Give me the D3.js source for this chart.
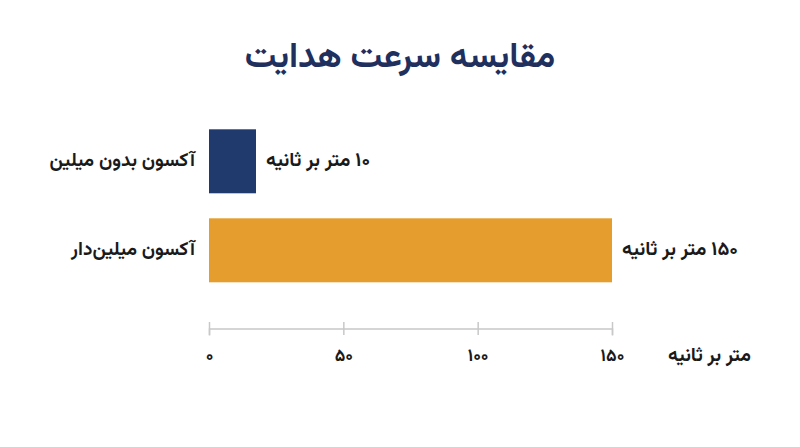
<!DOCTYPE html>
<html>
<head>
<meta charset="utf-8">
<title>مقایسه سرعت هدایت</title>
<script src="https://d3js.org/d3.v7.min.js"></script>
<style>
    body { margin: 0; background: #fff; }
    text { font-family: Vazirmatn, "Noto Sans Arabic", "DejaVu Sans", sans-serif; font-weight: bold; }
    .axis path, .axis line { stroke: #c8c8c8; stroke-width: 1.5; }
</style>
</head>
<body>
<script>
    // data
    var categories = ["آکسون بدون میلین", "آکسون میلین‌دار"];
    var speeds = [10, 150];
    var valueLabels = ["۱۰ متر بر ثانیه", "۱۵۰ متر بر ثانیه"];
    var tickValues = [0, 50, 100, 150];
    var tickLabels = ["۰", "۵۰", "۱۰۰", "۱۵۰"];
    var colors = ["#213a6e", "#e59e2d"];

    var svgWidth = 800, svgHeight = 447;
    var minBar = 47;   // short bar is drawn wider so it stays visible

    var x = d3.scaleLinear().domain([0, 150]).range([209, 612]);
    var y = d3.scaleBand().domain(categories).range([120.4, 291.2]).paddingInner(0.281).paddingOuter(0.1);

    var svg = d3.select("body").append("svg")
        .attr("width", svgWidth)
        .attr("height", svgHeight);

    svg.append("text")
        .attr("x", 400).attr("y", 58)
        .attr("text-anchor", "middle")
        .attr("dominant-baseline", "central")
        .attr("fill", "#1f2f5e")
        .attr("font-size", 35)
        .attr("direction", "rtl")
        .text("مقایسه سرعت هدایت");

    var rows = categories.map((c, i) => ({cat: c, v: speeds[i], label: valueLabels[i], color: colors[i]}));

    svg.selectAll(".bar")
        .data(rows).enter().append("rect")
        .attr("class", "bar")
        .attr("x", x(0))
        .attr("y", d => y(d.cat))
        .attr("width", d => Math.max(minBar, x(d.v) - x(0)))
        .attr("height", y.bandwidth())
        .attr("fill", d => d.color);

    svg.selectAll(".cat")
        .data(rows).enter().append("text")
        .attr("class", "cat")
        .attr("x", 195)
        .attr("y", d => y(d.cat) + y.bandwidth() / 2)
        .attr("direction", "rtl")
        .attr("text-anchor", "start")
        .attr("dominant-baseline", "central")
        .attr("font-size", 19)
        .attr("fill", "#1a1a1a")
        .text(d => d.cat);

    svg.selectAll(".val")
        .data(rows).enter().append("text")
        .attr("class", "val")
        .attr("x", d => x(0) + Math.max(minBar, x(d.v) - x(0)) + 10)
        .attr("y", d => y(d.cat) + y.bandwidth() / 2)
        .attr("direction", "rtl")
        .attr("text-anchor", "end")
        .attr("dominant-baseline", "central")
        .attr("font-size", 19.6)
        .attr("fill", "#1a1a1a")
        .text(d => d.label);

    var axis = svg.append("g")
        .attr("class", "axis")
        .attr("transform", "translate(0,328.5)")
        .call(d3.axisBottom(x).tickValues(tickValues).tickSizeOuter(0).tickSize(7).tickFormat((d, i) => tickLabels[i]));

    axis.selectAll(".tick line").attr("y1", -6.5).attr("y2", 6.5);
    axis.selectAll(".tick text")
        .attr("y", 27)
        .attr("dy", "0.32em")
        .attr("font-size", 17.5)
        .attr("fill", "#1a1a1a");

    svg.append("text")
        .attr("x", 751).attr("y", 356)
        .attr("direction", "rtl")
        .attr("text-anchor", "start")
        .attr("dominant-baseline", "central")
        .attr("font-size", 19.3)
        .attr("fill", "#1a1a1a")
        .text("متر بر ثانیه");
</script>
</body>
</html>
